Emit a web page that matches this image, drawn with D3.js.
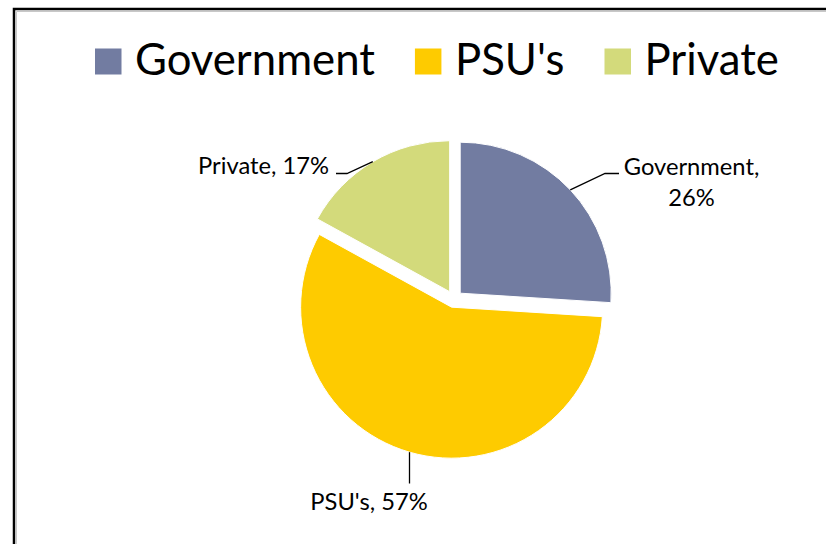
<!DOCTYPE html>
<html>
<head>
<meta charset="utf-8">
<script src="https://cdn.jsdelivr.net/npm/d3@7"></script>
<style>
  body { margin: 0; background: #fff; }
  svg { display: block; }
  text { font-family: Lato, "Open Sans", sans-serif; fill: #000; }
</style>
</head>
<body>
<svg id="chart" width="826" height="544"></svg>
<script>
// data
var categories = ["Government", "PSU's", "Private"];
var shares = [26, 57, 17];
var colors = ["#727ca1", "#fecb00", "#d3da7b"];

var width = 826, height = 544;
var cx = 454, cy = 299, radius = 151, explode = 8.5;

var svg = d3.select("#chart");

// chart frame (runs off the right and bottom of the picture)
svg.append("path")
  .attr("d", "M16.5,544V11.5H826")
  .attr("fill", "none")
  .attr("stroke", "#c8c8c8")
  .attr("stroke-width", 1);
svg.append("path")
  .attr("d", "M14,544V9H826")
  .attr("fill", "none")
  .attr("stroke", "#000")
  .attr("stroke-width", 2.5);

// helper: font size so a string fits a target width
function fitSize(str, target) {
  var t = svg.append("text").attr("font-size", 100).text(str);
  var w = t.node().getComputedTextLength();
  t.remove();
  return 100 * target / w;
}

// legend
var legendSize = fitSize("Government", 240);
var legend = svg.append("g");
var lx = 95;
categories.forEach(function (c, i) {
  legend.append("rect")
    .attr("x", lx).attr("y", 48.5)
    .attr("width", 26.5).attr("height", 26)
    .attr("fill", colors[i]);
  var t = legend.append("text")
    .attr("x", lx + 40).attr("y", 75)
    .attr("font-size", legendSize)
    .text(c);
  lx += 40 + t.node().getComputedTextLength() + 40;
});

// pie
var pie = d3.pie().sort(null).value(function (d) { return d; });
var arcs = pie(shares);
var arc = d3.arc().innerRadius(0).outerRadius(radius);
var edge = d3.arc().innerRadius(radius).outerRadius(radius);

function shift(d) {
  var a = (d.startAngle + d.endAngle) / 2;
  return [explode * Math.sin(a), -explode * Math.cos(a)];
}

var g = svg.append("g").attr("transform", "translate(" + cx + "," + cy + ")");
g.selectAll("path.slice")
  .data(arcs)
  .enter()
    .append("path")
    .attr("class", "slice")
    .attr("transform", function (d) { return "translate(" + shift(d) + ")"; })
    .attr("d", arc)
    .attr("fill", function (d, i) { return colors[i]; })
    .attr("stroke", "#fff")
    .attr("stroke-width", 1);

// data labels: where each label sits (layout), leader lines come from the slice edge
var labelSize = fitSize("Private, 17%", 131);
var labelLayout = [
  { x: 691.5, y: 175, anchor: "middle", hookX: 619, hookY: 173.5, knee: -14, split: true },
  { x: 369, y: 510, anchor: "middle", hookX: null, hookY: 483.5, knee: 0, split: false },
  { x: 329, y: 173.5, anchor: "end", hookX: 336, hookY: 173.5, knee: 11, split: false }
];

arcs.forEach(function (d, i) {
  var L = labelLayout[i];
  var s = shift(d);
  var p = edge.centroid(d);
  var px = cx + p[0] + s[0], py = cy + p[1] + s[1];
  var pts;
  if (L.hookX === null) {
    pts = [[px, py], [px, L.hookY]];
  } else {
    pts = [[px, py], [L.hookX + L.knee, L.hookY], [L.hookX, L.hookY]];
  }
  svg.append("path")
    .attr("d", d3.line()(pts))
    .attr("fill", "none")
    .attr("stroke", "#000")
    .attr("stroke-width", 1.3);

  var pct = Math.round(d.value / d3.sum(shares) * 100) + "%";
  var t = svg.append("text")
    .attr("x", L.x).attr("y", L.y)
    .attr("font-size", labelSize)
    .attr("text-anchor", L.anchor);
  if (L.split) {
    t.append("tspan").attr("x", L.x).text(categories[i] + ",");
    t.append("tspan").attr("x", L.x).attr("dy", 31).text(pct);
  } else {
    t.text(categories[i] + ", " + pct);
  }
});
</script>
</body>
</html>
